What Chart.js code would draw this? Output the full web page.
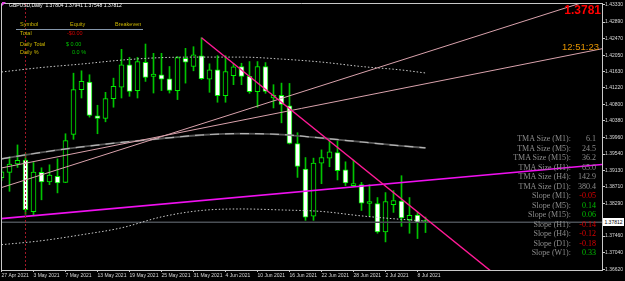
<!DOCTYPE html>
<html><head><meta charset="utf-8">
<script src="https://cdn.jsdelivr.net/npm/chart.js@4/dist/chart.umd.min.js"></script>
<style>
html,body{margin:0;padding:0;background:#000;width:625px;height:281px;overflow:hidden}
#wrap{position:relative;width:625px;height:281px}
canvas{position:absolute;left:0;top:0}
.t{position:absolute;white-space:nowrap;line-height:1;transform:translateY(-50%);font-family:"Liberation Sans",Arial,sans-serif}
</style></head><body>
<div id="wrap"><canvas id="c" width="625" height="281"></canvas><div id="ov"></div></div>
<script>
// ---- data (bar index 0 = 27 Apr 2021, daily bars) ----
const dateLabels = ['27 Apr 2021','3 May 2021','7 May 2021','13 May 2021','19 May 2021','25 May 2021','31 May 2021','4 Jun 2021','10 Jun 2021','16 Jun 2021','22 Jun 2021','28 Jun 2021','2 Jul 2021','8 Jul 2021'];
const dateLabelBars = [0,4,8,12,16,20,24,28,32,36,40,44,48,52];

const open = [1.38940,1.39074,1.39293,1.39386,1.38077,1.39074,1.38832,1.38973,1.38822,1.40041,
1.41175,1.41366,1.40510,1.40444,1.40948,1.41240,1.41805,1.41150,1.41870,1.41510,
1.41553,1.41452,1.41150,1.41971,1.41762,1.42031,1.41442,1.41679,1.41024,1.41527,
1.41762,1.41510,1.41124,1.41762,1.40963,1.41031,1.40767,1.39805,1.39160,1.37966,
1.39311,1.39437,1.39578,1.39142,1.38739,1.38764,1.38286,1.38286,1.37563,1.38253,
1.38349,1.37875,1.37991,1.37804];
const high = [1.39167,1.39469,1.39772,1.39563,1.39326,1.39192,1.39268,1.39419,1.40056,1.41593,
1.41653,1.41553,1.40779,1.41107,1.41467,1.42197,1.41996,1.41996,1.42333,1.42097,
1.42097,1.41762,1.42014,1.42223,1.42265,1.42492,1.41830,1.42039,1.42039,1.41845,
1.41845,1.41888,1.41888,1.41862,1.41301,1.41341,1.41333,1.40082,1.39452,1.39437,
1.39646,1.39873,1.39873,1.39344,1.39386,1.38822,1.38764,1.38437,1.38563,1.38613,
1.38991,1.38437,1.38059,1.37941];
const low = [1.38865,1.38595,1.39200,1.38009,1.37976,1.38379,1.38764,1.38555,1.38815,1.39915,
1.40963,1.40477,1.40056,1.40359,1.40729,1.40963,1.41006,1.40963,1.41384,1.41089,
1.41150,1.41089,1.40923,1.41341,1.41653,1.41434,1.41107,1.40855,1.40855,1.41301,
1.41301,1.41082,1.40729,1.41082,1.40711,1.40333,1.39797,1.38948,1.37857,1.37857,
1.38789,1.39218,1.38883,1.38739,1.38714,1.38109,1.37958,1.37530,1.37311,1.38059,
1.37706,1.37530,1.37396,1.37548];
const close = [1.39092,1.39286,1.39381,1.38127,1.39084,1.38832,1.39009,1.38807,1.39880,1.41175,
1.41384,1.40520,1.40444,1.40948,1.41258,1.41805,1.41132,1.41888,1.41485,1.41568,
1.41442,1.41157,1.41988,1.41870,1.42056,1.41452,1.41679,1.41024,1.41636,1.41754,
1.41510,1.41124,1.41762,1.41132,1.41031,1.40797,1.39810,1.39225,1.37941,1.39311,
1.39452,1.39595,1.39117,1.38807,1.38764,1.38293,1.38311,1.37563,1.38336,1.38361,
1.37920,1.37983,1.37799,1.37812];

// TMA bands (sampled bars)
const tmaBars  = [0,5,10,15,20,25,30,35,40,45,50,53];
const tmaMid   = [1.39419,1.39583,1.39721,1.39835,1.39935,1.40024,1.40061,1.40036,1.39948,1.39847,1.39747,1.39696];
const tmaUpper = [1.41623,1.41737,1.41825,1.41925,1.41988,1.42001,1.42001,1.41951,1.41875,1.41762,1.41674,1.41598];
const tmaLower = [1.37240,1.37341,1.37492,1.37668,1.37946,1.38109,1.38147,1.38122,1.38084,1.37971,1.37883,1.37840];

// trend lines: two anchors each [bar, price]
const trendDeepPink = [[25,1.42492],[41,1.39873]];
const trendMagenta  = [[4,1.37976],[75,1.39275]];
const trendPinkA    = [[0,1.38690],[60,1.42570]];
const trendPinkB    = [[0,1.39188],[60,1.41606]];
const bidPrice = 1.37812;
const separatorBar = 3;

const priceTicks = [1.43330,1.42890,1.42470,1.42050,1.41630,1.41220,1.40800,1.40380,1.39960,1.39540,1.39130,1.38710,1.38290,1.37460,1.37040,1.36620];

const tmaLabels = ['TMA Size (M1):','TMA Size (M5):','TMA Size (M15):','TMA Size (H1):','TMA Size (H4):','TMA Size (D1):'];
const tmaValues = ['6.1','24.5','36.2','65.0','142.9','380.4'];
const slopeLabels = ['Slope (M1):','Slope (M5):','Slope (M15):','Slope (H1):','Slope (H4):','Slope (D1):','Slope (W1):'];
const slopeValues = [-0.05,0.14,0.06,-0.14,-0.12,-0.18,0.33];

// ---- build ----
const yMin = 1.36598, yMax = 1.43374;
const xMin = -0.0625, xMax = 75.0625;
const idx = open.map((_, i) => i);
const bull = idx.map(i => close[i] >= open[i]);

function ray(a, b, x0, x1) {
  const f = x => a[1] + (b[1]-a[1])*(x-a[0])/(b[0]-a[0]);
  return [{x:x0,y:f(x0)},{x:x1,y:f(x1)}];
}
const lineDs = (data, color, width, order, extra) => Object.assign({
  type:'line', data, borderColor:color, borderWidth:width, pointRadius:0, fill:false, tension:0, order
}, extra||{});

const datasets = [
  {type:'bar', data: idx.map(i => ({x:i, y:[low[i], high[i]]})), backgroundColor:'#00c400', borderWidth:0,
   barThickness:1, grouped:false, order:20},
  {type:'bar', data: idx.map(i => ({x:i, y:[open[i], close[i]]})),
   backgroundColor: idx.map(i => bull[i] ? '#000000' : '#ffffff'), borderColor:'#00f000', borderWidth:1,
   borderSkipped:false, barThickness:5, grouped:false, minBarLength:2, order:19},
  lineDs([{x:-2,y:bidPrice},{x:80,y:bidPrice}], '#4a4f55', 1.5, 18),
  lineDs(tmaBars.map((b,k)=>({x:b,y:tmaMid[k]})), '#555555', 1.8, 17, {cubicInterpolationMode:'monotone'}),
  lineDs(tmaBars.map((b,k)=>({x:b,y:tmaMid[k]})), '#b4b4b4', 1.2, 16, {cubicInterpolationMode:'monotone', borderDash:[9,6]}),
  lineDs(tmaBars.map((b,k)=>({x:b,y:tmaUpper[k]})), '#cccccc', 1, 15, {cubicInterpolationMode:'monotone', borderDash:[1.5,2]}),
  lineDs(tmaBars.map((b,k)=>({x:b,y:tmaLower[k]})), '#cccccc', 1, 15, {cubicInterpolationMode:'monotone', borderDash:[1.5,2]}),
  lineDs(ray(trendPinkA[0], trendPinkA[1], -2, 80), '#d9a2ac', 1, 14),
  lineDs(ray(trendPinkB[0], trendPinkB[1], -2, 80), '#d9a2ac', 1, 14),
  lineDs(ray(trendMagenta[0], trendMagenta[1], -2, 80), '#f010f0', 1.6, 13),
  lineDs(ray(trendDeepPink[0], trendDeepPink[1], trendDeepPink[0][0], 80), '#ff1a96', 1.4, 12),
  lineDs([{x:separatorBar,y:yMin},{x:separatorBar,y:yMax}], '#a01828', 1, 11, {borderDash:[2,2]})
];

const frame = {
  id:'frame',
  afterDraw(chart){
    const {ctx, chartArea:a} = chart;
    ctx.save();
    ctx.strokeStyle = '#c8c8c8'; ctx.lineWidth = 1;
    ctx.beginPath();
    ctx.moveTo(a.left+0.5, a.bottom); ctx.lineTo(a.left+0.5, a.top+0.5); ctx.lineTo(a.right, a.top+0.5);
    ctx.stroke();
    ctx.restore();
  }
};

new Chart(document.getElementById('c'), {
  type:'bar',
  data:{datasets},
  options:{
    responsive:false, animation:false, devicePixelRatio:1,
    layout:{padding:{left:1, top:1, right:0, bottom:0}},
    plugins:{legend:{display:false}, tooltip:{enabled:false}},
    scales:{
      x:{type:'linear', min:xMin, max:xMax, bounds:'data', offset:false,
         grid:{display:true, drawOnChartArea:false, drawTicks:true, tickLength:2, color:'#c8c8c8', offset:false},
         border:{display:true, color:'#c8c8c8'},
         ticks:{autoSkip:false, maxRotation:0, minRotation:0, align:'start', padding:1, color:'#d8d8d8',
                font:{size:5, family:'Liberation Sans'},
                callback:(v)=>{ const k = dateLabelBars.indexOf(v); return k>=0 ? dateLabels[k] : ''; }},
         afterBuildTicks:s=>{ s.ticks = dateLabelBars.map(v=>({value:v})); },
         afterFit:s=>{ s.height = 11; }},
      y:{type:'linear', position:'right', min:yMin, max:yMax, bounds:'data', beginAtZero:false,
         grid:{display:true, drawOnChartArea:false, drawTicks:true, tickLength:3, color:'#c8c8c8'},
         border:{display:true, color:'#c8c8c8'},
         ticks:{padding:0, color:'#d8d8d8', font:{size:5, family:'Liberation Sans'}, callback:v=>v.toFixed(5)},
         afterBuildTicks:s=>{ s.ticks = priceTicks.map(v=>({value:v})); },
         afterFit:s=>{ s.width = 23; }}
    }
  },
  plugins:[frame]
});

// ---- text overlays ----
const ov = document.getElementById('ov');
function txt(s, o){
  const d = document.createElement('div'); d.className = 't'; d.textContent = s;
  for (const k in o) d.style[k] = o[k];
  ov.appendChild(d); return d;
}
const gold = '#cdb600';
txt('GBPUSD,Daily  1.37804 1.37941 1.37548 1.37812', {left:'9px', top:'5px', fontSize:'5px', color:'#ffffff', whiteSpace:'pre'});
const tri = document.createElement('div');
Object.assign(tri.style,{position:'absolute',left:'2px',top:'2px',width:'0',height:'0',borderLeft:'4px solid #e040e0',borderBottom:'4px solid transparent'});
ov.appendChild(tri);

txt('Symbol', {left:'20px', top:'25px', fontSize:'5.5px', color:gold});
txt('Equity', {left:'70px', top:'25px', fontSize:'5.5px', color:gold});
txt('Breakeven', {left:'115px', top:'25px', fontSize:'5.5px', color:gold});
const sep = document.createElement('div');
Object.assign(sep.style,{position:'absolute',left:'16px',top:'29px',width:'127px',height:'0',borderTop:'1.5px solid #8596aa'});
ov.appendChild(sep);
txt('Total', {left:'20px', top:'34px', fontSize:'5.5px', color:gold});
txt('-$0.00', {left:'67px', top:'34px', fontSize:'5.5px', color:'#d00000'});
txt('Daily Total', {left:'20px', top:'45px', fontSize:'5.5px', color:gold});
txt('$ 0.00', {left:'66px', top:'45px', fontSize:'5.5px', color:'#00c000'});
txt('Daily %', {left:'20px', top:'52.7px', fontSize:'5.5px', color:gold});
txt('0.0 %', {left:'72px', top:'52.7px', fontSize:'5.5px', color:'#00c000'});

txt('1.3781', {right:'24px', top:'10px', fontSize:'12px', fontWeight:'bold', color:'#ff0000'});
txt('12:51:23', {right:'26px', top:'47px', fontSize:'9.5px', color:'#e69500'});

const serif = '"Liberation Serif","Times New Roman",serif';
tmaLabels.forEach((l,k)=>{
  const y = (139 + 9.5*k) + 'px';
  txt(l, {right:'54px', top:y, fontSize:'8px', color:'#8c8c8c', fontFamily:serif});
  txt(tmaValues[k], {right:'29px', top:y, fontSize:'8px', color:'#8c8c8c', fontFamily:serif});
});
slopeLabels.forEach((l,k)=>{
  const y = (139 + 9.5*(k+6)) + 'px';
  txt(l, {right:'54px', top:y, fontSize:'8px', color:'#8c8c8c', fontFamily:serif});
  txt(slopeValues[k].toFixed(2), {right:'29px', top:y, fontSize:'8px', color: slopeValues[k] < 0 ? '#e00000' : '#00c000', fontFamily:serif});
});

const bid = txt(bidPrice.toFixed(5), {left:'603px', top:'222px', width:'21px', height:'8px', lineHeight:'8px', fontSize:'5px', background:'#ffffff', color:'#000000', textAlign:'center'});
</script>
</body></html>
